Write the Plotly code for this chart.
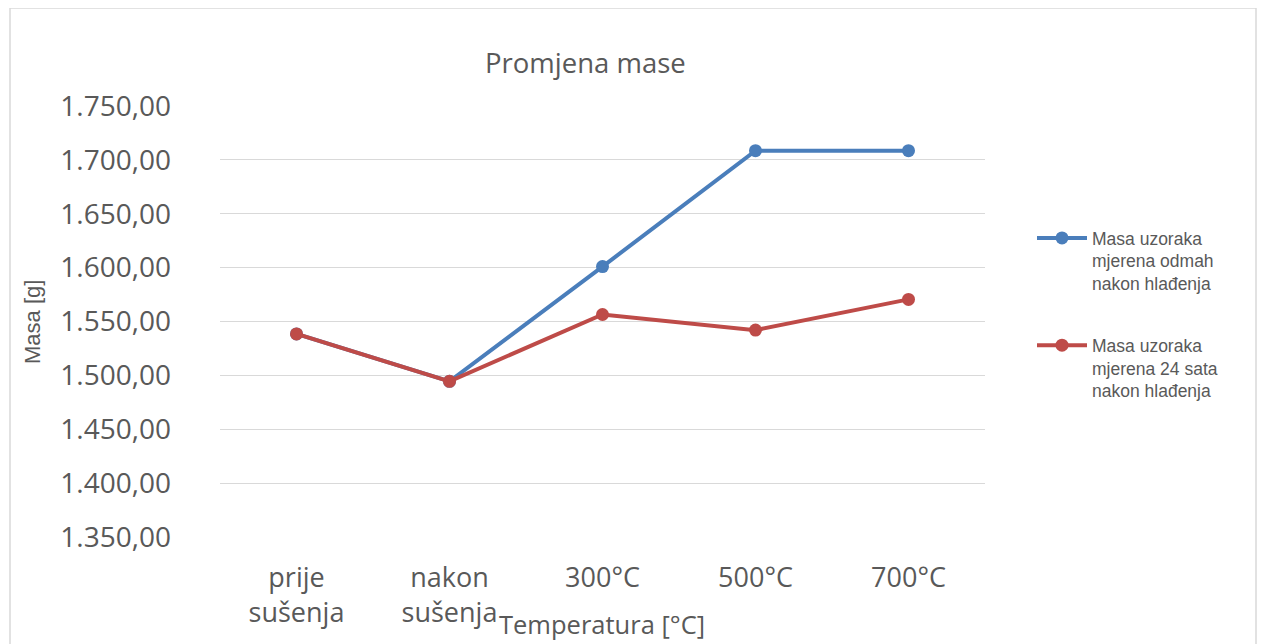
import plotly.graph_objects as go

categories = ["prije<br>sušenja", "nakon<br>sušenja", "300°C", "500°C", "700°C"]
odmah = [1538.5, 1494.5, 1601.0, 1708.5, 1708.5]
sata24 = [1538.5, 1494.5, 1556.5, 1542.0, 1570.5]
name_odmah = "Masa uzoraka<br>mjerena odmah<br>nakon hlađenja"
name_24 = "Masa uzoraka<br>mjerena 24 sata<br>nakon hlađenja"
y_ticks = [1350, 1400, 1450, 1500, 1550, 1600, 1650, 1700, 1750]

OFF = 8  # page body margin
W, H = 1266, 644
L, R, T, B = 220, 985, 106, 537
pw, ph = R - L, B - T

def px(x):
    return (x - L) / pw

def py(y):
    return (B - y) / ph

xs = list(range(len(categories)))

fig = go.Figure()
fig.add_trace(go.Scatter(x=xs, y=odmah, name=name_odmah, mode="lines+markers",
                         legendgroup="g1",
                         line=dict(color="#4a7ebb", width=4),
                         marker=dict(size=13, color="#4a7ebb")))
fig.add_trace(go.Scatter(x=xs, y=sata24, name=name_24, mode="lines+markers",
                         legendgroup="g2",
                         line=dict(color="#be4b48", width=4),
                         marker=dict(size=13, color="#be4b48")))

fig.update_layout(
    width=W - OFF, height=H - OFF,
    margin=dict(l=L - OFF, r=W - R, t=T - OFF, b=H - B),
    paper_bgcolor="white", plot_bgcolor="white",
    separators=",.",
    showlegend=True,
    legend=dict(x=px(1032), y=py(220), xanchor="left", yanchor="top", valign="top",
                font=dict(family="Liberation Sans, Arial", size=17.5, color="#595959"),
                tracegroupgap=36, itemwidth=50, bgcolor="rgba(0,0,0,0)"),
    xaxis=dict(range=[-0.5, 4.5], tickmode="array", tickvals=xs, ticktext=categories,
               showgrid=False, zeroline=False, showline=False, ticks="",
               ticklabelstandoff=22,
               tickfont=dict(family="Open Sans", size=27, color="#595959")),
    yaxis=dict(range=[1350, 1750], tickmode="array", tickvals=y_ticks,
               tickformat=",.2f", showgrid=True, gridcolor="#d9d9d9", gridwidth=1,
               zeroline=False, showline=False, ticks="", ticklen=0,
               ticklabelstandoff=48,
               tickfont=dict(family="Open Sans", size=28, color="#595959")),
)

fig.add_annotation(text="Promjena mase", xref="paper", yref="paper",
                   x=px(585), y=py(62), xanchor="center", yanchor="middle", showarrow=False,
                   font=dict(family="Open Sans", size=27.5, color="#595959"))
fig.add_annotation(text="Temperatura [°C]", xref="paper", yref="paper",
                   x=px(602), y=py(624), xanchor="center", yanchor="middle", showarrow=False,
                   font=dict(family="Open Sans", size=25.5, color="#595959"))
fig.add_annotation(text="Masa [g]", xref="paper", yref="paper",
                   x=px(32), y=py(322), xanchor="center", yanchor="middle", showarrow=False,
                   textangle=-90,
                   font=dict(family="Liberation Sans, Arial", size=22, color="#595959"))

fig.add_shape(type="rect", xref="paper", yref="paper",
              x0=px(10), x1=px(1256), y0=py(660), y1=py(8),
              line=dict(color="#d9d9d9", width=1.5), fillcolor="rgba(0,0,0,0)", layer="below")

fig.write_html("out.html")
